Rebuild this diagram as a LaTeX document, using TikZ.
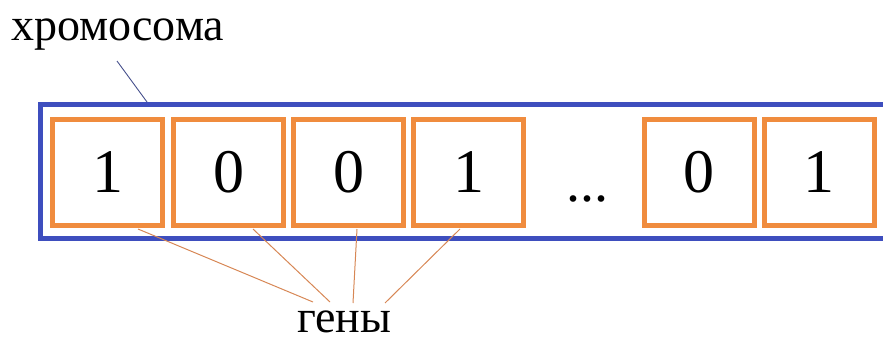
\documentclass[tikz,border=0pt]{standalone}
\usepackage{fontspec}
\setmainfont{Liberation Serif}
\definecolor{chromblue}{RGB}{62,78,190}
\definecolor{geneorange}{RGB}{240,140,62}
\definecolor{linkorange}{RGB}{215,135,85}
\definecolor{ptrblue}{RGB}{70,80,140}
\begin{document}
\begin{tikzpicture}[x=1pt,y=-1pt,
  gene/.style={draw=geneorange,line width=5pt,minimum width=110pt,minimum height=106pt,inner sep=0pt,font=\fontsize{62}{62}\selectfont},
  label/.style={font=\fontsize{46}{46}\selectfont,inner sep=0pt},
  link/.style={draw=linkorange,line width=1pt}]
\useasboundingbox (0,0) rectangle (883,343);
\begin{scope}
\clip (0,0) rectangle (883,343);
\draw[chromblue,line width=5pt] (900,104.5) -- (40.5,104.5) -- (40.5,238.5) -- (900,238.5);
\end{scope}
\node[gene] (g1) at (107.5,172) {1};
\node[gene] (g2) at (228.5,172) {0};
\node[gene] (g3) at (348.5,172) {0};
\node[gene] (g4) at (468.5,172) {1};
\node[font=\fontsize{56}{56}\selectfont,inner sep=0pt,anchor=base] (dots) at (587,201) {...};
\node[gene] (g5) at (699,172) {0};
\node[gene] (g6) at (819,172) {1};
\node[label,anchor=base west] (chrom) at (11,40) {хромосома};
\node[label,anchor=base west] (genes) at (297,332) {гены};
\coordinate (cp) at (117,61);
\coordinate (ct) at (147,102);
\draw[ptrblue,line width=0.9pt] (cp) -- (ct);
\coordinate (s1) at (138,229);
\coordinate (s2) at (253,229);
\coordinate (s3) at (357,229);
\coordinate (s4) at (460,229);
\coordinate (e1) at (313,302);
\coordinate (e2) at (330,302);
\coordinate (e3) at (353,303);
\coordinate (e4) at (385,303);
\draw[link] (s1) -- (e1);
\draw[link] (s2) -- (e2);
\draw[link] (s3) -- (e3);
\draw[link] (s4) -- (e4);
\end{tikzpicture}
\end{document}
